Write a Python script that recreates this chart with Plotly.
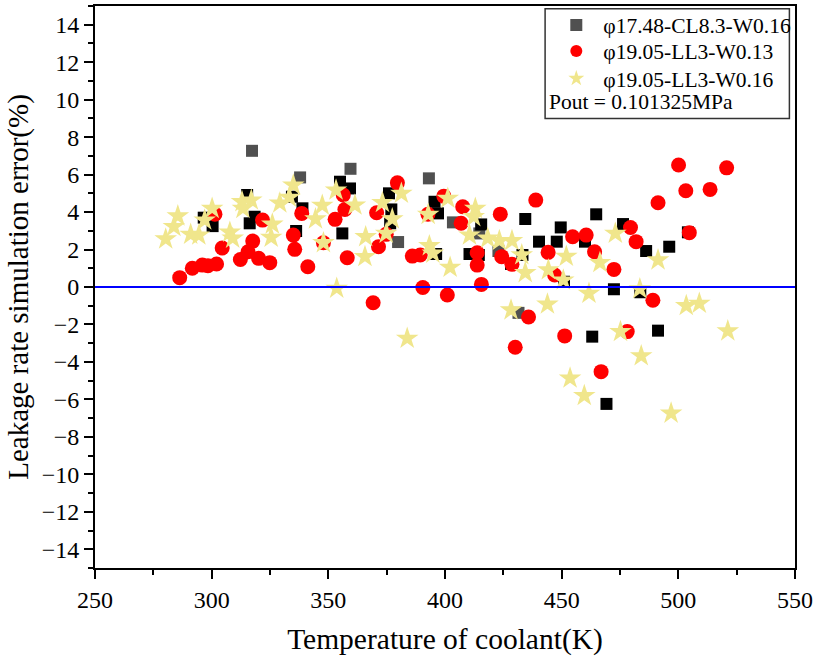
import plotly.graph_objects as go

# ---- data ----
sq_gray_x = [317.3, 337.9, 359.5, 393.1, 379.9, 403.4, 414.7, 422.9, 431.5]
sq_gray_y = [7.27, 5.85, 6.31, 5.80, 2.40, 3.45, 2.86, 1.92, -1.38]

sq_black_x = [296.6, 300.4, 315.2, 316.3, 318.4, 334.4, 338.9, 336.2, 355.0, 359.3,
              356.0, 376.0, 377.0, 376.5, 395.5, 397.0, 396.2, 410.5, 414.5, 415.5,
              428.3, 433.2, 434.4, 440.3, 447.9, 449.6, 451.0, 460.0, 464.8, 463.1,
              469.2, 472.4, 476.3, 483.7, 486.2, 491.3, 496.1, 504.1]
sq_black_y = [3.70, 3.25, 4.91, 3.40, 3.75, 4.82, 4.20, 2.99, 5.62, 5.26,
              2.86, 5.00, 4.14, 3.40, 4.55, 3.93, 1.76, 1.76, 1.71, 3.34,
              1.23, 1.71, 3.63, 2.42, 2.42, 3.18, 0.28, 2.42, 3.88, -2.65,
              -6.24, -0.12, 3.36, -0.28, 1.92, -2.33, 2.15, 2.92]

red_x = [286.3, 291.7, 296.0, 298.4, 302.1, 304.5, 301.4, 312.3, 315.6, 317.6,
         320.1, 321.8, 324.9, 335.0, 335.6, 338.6, 341.2, 347.9, 352.9, 356.4,
         357.1, 358.1, 369.2, 370.7, 371.5, 374.8, 379.6, 386.0, 389.4, 390.5,
         392.7, 399.5, 401.0, 406.9, 407.6, 413.8, 413.8, 415.6, 423.7, 424.3,
         428.7, 430.1, 435.8, 438.9, 444.2, 447.0, 451.3, 454.7, 460.5, 464.1,
         466.9, 472.4, 478.1, 479.5, 481.9, 489.1, 491.3, 500.1, 503.2, 504.7,
         513.6, 520.7]
red_y = [0.50, 1.00, 1.17, 1.14, 1.23, 2.08, 3.89, 1.47, 1.88, 2.45,
         1.53, 3.57, 1.30, 2.77, 2.01, 3.93, 1.08, 2.36, 3.61, 4.91,
         4.14, 1.56, -0.84, 3.96, 2.15, 2.81, 5.56, 1.65, 1.71, -0.03,
         3.88, 4.85, -0.43, 3.40, 4.28, 1.83, 1.17, 0.14, 3.89, 1.62,
         1.21, -3.22, -1.60, 4.64, 1.85, 0.64, -2.61, 2.68, 2.77, 1.88,
         -4.52, 0.94, -2.38, 3.18, 2.42, -0.71, 4.50, 6.51, 5.14, 2.90,
         5.21, 6.36]

star_x = [280.3, 283.8, 285.5, 291.0, 294.5, 297.0, 300.2, 307.8, 309.0, 313.0,
          313.4, 317.0, 325.5, 326.0, 329.2, 333.3, 335.0, 344.5, 347.4, 347.9,
          353.3, 353.6, 361.4, 365.7, 366.0, 373.2, 374.8, 377.4, 381.3, 383.8,
          392.8, 393.3, 394.8, 401.2, 402.2, 410.5, 412.3, 413.0, 418.3, 423.3,
          428.3, 428.7, 432.9, 434.4, 443.9, 444.3, 450.7, 452.0, 453.6, 459.7,
          461.7, 466.4, 473.0, 475.2, 483.5, 484.1, 491.3, 496.9, 503.4, 509.0,
          521.2]
star_y = [2.56, 3.22, 3.79, 2.81, 2.77, 3.57, 4.19, 2.92, 2.60, 4.55,
          4.19, 4.64, 2.65, 3.35, 4.48, 4.78, 5.44, 3.63, 4.36, 2.36,
          5.17, -0.07, 4.37, 1.62, 2.68, 4.50, 2.86, 3.63, 5.00, -2.74,
          3.87, 2.20, 1.80, 4.73, 1.05, 2.77, 3.75, 4.19, 2.60, 2.47,
          -1.23, 2.47, 1.71, 0.76, -0.92, 0.91, 0.37, 1.63, -4.87, -5.80,
          -0.34, 1.30, 2.86, -2.38, -0.10, -3.68, 1.44, -6.74, -1.00, -0.88,
          -2.35]

names = ["\u03c617.48-CL8.3-W0.16", "\u03c619.05-LL3-W0.13", "\u03c619.05-LL3-W0.16"]
note = "Pout = 0.101325MPa"

FONT = "Liberation Serif, Times New Roman, serif"

fig = go.Figure()
fig.add_trace(go.Scatter(x=sq_gray_x, y=sq_gray_y, mode="markers", name=names[0],
                         legend="legend",
                         marker=dict(symbol="square", size=12, color="#505050",
                                     line=dict(width=0))))
fig.add_trace(go.Scatter(x=sq_black_x, y=sq_black_y, mode="markers", name=names[0],
                         showlegend=False,
                         marker=dict(symbol="square", size=12, color="#000000",
                                     line=dict(width=0))))
fig.add_trace(go.Scatter(x=red_x, y=red_y, mode="markers", name=names[1],
                         legend="legend2",
                         marker=dict(symbol="circle", size=15, color="#ff0000",
                                     line=dict(width=0))))
fig.add_trace(go.Scatter(x=star_x, y=star_y, mode="markers", name=names[2],
                         legend="legend3",
                         marker=dict(symbol="star", size=17, color="#f0e68c",
                                     line=dict(width=0))))

fig.add_hline(y=0, line=dict(color="#0000ff", width=2))

axis_common = dict(showline=True, linecolor="black", linewidth=2, mirror=True,
                   ticks="outside", ticklen=9, tickwidth=2, tickcolor="black",
                   showgrid=False, zeroline=False,
                   tickfont=dict(family=FONT, size=24, color="black"))

fig.update_xaxes(range=[250, 550], dtick=50, tick0=250,
                 minor=dict(dtick=25, ticks="outside", ticklen=5, tickwidth=2, tickcolor="black"),
                 title=dict(text="Temperature of coolant(K)",
                            font=dict(family=FONT, size=29.5, color="black"), standoff=17),
                 **axis_common)
fig.update_yaxes(range=[-15, 15], dtick=2, tick0=0,
                 minor=dict(dtick=1, ticks="outside", ticklen=5, tickwidth=2, tickcolor="black"),
                 title=dict(text="Leakage rate simulation error(%)",
                            font=dict(family=FONT, size=29, color="black"), standoff=5),
                 **axis_common)

fig.add_shape(type="rect", xref="paper", yref="paper",
              x0=0.643, x1=0.992, y0=0.800, y1=0.995,
              line=dict(color="#333333", width=1.5), fillcolor="rgba(0,0,0,0)")
fig.add_annotation(text=note, xref="paper", yref="paper", x=0.646, y=0.830,
                   xanchor="left", yanchor="middle", showarrow=False,
                   font=dict(family=FONT, size=21.5, color="black"))

leg_common = dict(x=0.649, xanchor="left", yanchor="middle",
                  bgcolor="rgba(0,0,0,0)", borderwidth=0,
                  font=dict(family=FONT, size=21.5, color="black"),
                  itemsizing="constant", itemwidth=44)

fig.update_layout(
    width=817, height=660,
    margin=dict(l=95, r=19, t=4, b=92),
    paper_bgcolor="white", plot_bgcolor="white",
    font=dict(family=FONT, color="black"),
    legend=dict(y=0.966, **leg_common),
    legend2=dict(y=0.920, **leg_common),
    legend3=dict(y=0.871, **leg_common),
)

fig.write_html("out.html")
